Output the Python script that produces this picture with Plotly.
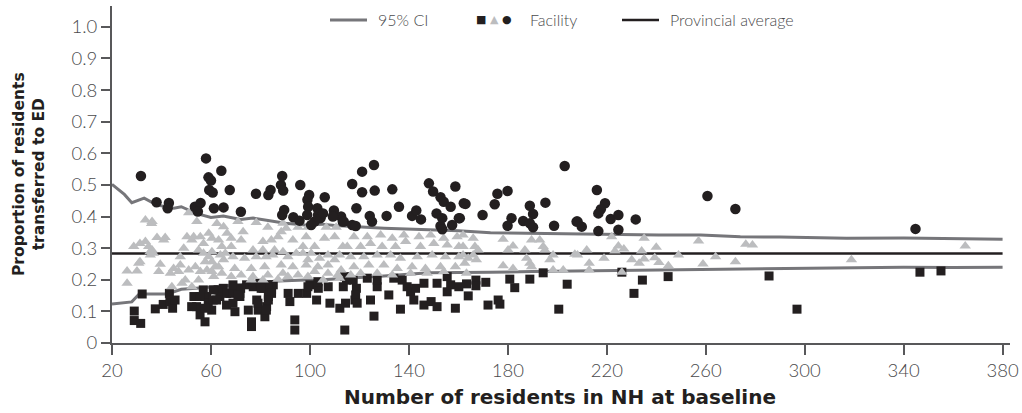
import plotly.graph_objects as go

# ---- data ----
ci_x = [20, 25, 28, 31, 33, 38, 42, 45, 48, 54, 60, 65, 72, 77, 85, 90, 98, 105, 110, 118,
        130, 148, 160, 173, 190, 202, 220, 241, 258, 274, 290, 317, 340, 360, 380]
ci_upper = [0.502, 0.47, 0.444, 0.452, 0.458, 0.437, 0.43, 0.426, 0.431, 0.41, 0.397, 0.402,
            0.391, 0.395, 0.385, 0.379, 0.373, 0.376, 0.372, 0.368, 0.363, 0.358, 0.355, 0.349,
            0.347, 0.347, 0.345, 0.342, 0.342, 0.336, 0.335, 0.331, 0.332, 0.330, 0.328]
ci_lower = [0.123, 0.127, 0.13, 0.155, 0.155, 0.155, 0.155, 0.162, 0.17, 0.173, 0.178, 0.18,
            0.184, 0.194, 0.195, 0.197, 0.199, 0.2, 0.202, 0.207, 0.212, 0.222, 0.222, 0.224,
            0.226, 0.227, 0.229, 0.231, 0.233, 0.234, 0.236, 0.238, 0.24, 0.239, 0.24]
provincial_avg = 0.283

high_x = [31.7, 38, 43, 42.5, 53.5, 55.8, 54.7, 58, 59, 60, 59.3, 60.7, 61.2, 64.2, 65.1, 67.6,
          72.1, 78.2, 83.2, 84.1, 88.3, 88.8, 89.2, 89.6, 88.8, 93.3, 96.1, 99.7, 99, 99.3, 98.9,
          103, 106, 103.8, 109.7, 95.8, 103.3, 104.3, 101.9, 100.5, 105.3, 112.6, 109.3, 113.3,
          125.9, 121.1, 117.1, 121.1, 126.2, 133.3, 118.8, 124.2, 125.1, 131, 136, 141.3, 143,
          144.9, 148.1, 149.8, 152.8, 154.1, 151.2, 153.5, 152.8, 153.5, 156.9, 158.8, 160.2,
          157.5, 162.2, 113.7, 117.1, 118.5, 203, 162.9, 160.6, 169.8, 175.8, 179.9, 174.7,
          181.5, 179.9, 186.2, 188.9, 190.2, 188.9, 190.2, 195.2, 198.7, 207.8, 216, 219.3,
          217.6, 216.6, 221.6, 224.7, 231.7, 208.2, 209.9, 216.6, 224.7, 260.7, 272, 344.8]
high_y = [0.528, 0.445, 0.443, 0.426, 0.431, 0.443, 0.416, 0.584, 0.524, 0.514, 0.484, 0.476,
          0.426, 0.545, 0.429, 0.484, 0.415, 0.472, 0.468, 0.484, 0.5, 0.528, 0.482, 0.421,
          0.405, 0.398, 0.5, 0.468, 0.453, 0.431, 0.405, 0.426, 0.461, 0.41, 0.419, 0.387, 0.405,
          0.395, 0.384, 0.373, 0.41, 0.4, 0.4, 0.384, 0.563, 0.542, 0.503, 0.477, 0.482, 0.486,
          0.426, 0.402, 0.384, 0.402, 0.431, 0.402, 0.419, 0.391, 0.505, 0.479, 0.461, 0.447,
          0.41, 0.395, 0.37, 0.36, 0.431, 0.495, 0.395, 0.373, 0.442, 0.384, 0.373, 0.37, 0.56,
          0.44, 0.395, 0.405, 0.472, 0.481, 0.439, 0.395, 0.371, 0.386, 0.434, 0.408, 0.379,
          0.366, 0.444, 0.371, 0.384, 0.484, 0.442, 0.423, 0.41, 0.392, 0.405, 0.391, 0.384,
          0.368, 0.354, 0.358, 0.465, 0.424, 0.361]

low_x = [29, 29, 31.6, 32.2, 37.5, 40.7, 43.4, 44.5, 43.2, 45.5, 53.1, 54.2, 52.2, 55.6, 57.6,
         56.9, 58.3, 58.9, 60.3, 60.9, 62.9, 63.6, 65, 66.3, 67.7, 69.7, 71.7, 69, 75.1, 76.4,
         76.4, 78.5, 79.1, 81.8, 82.5, 83.2, 81.1, 84.5, 85.2, 83.2, 91.2, 91.9, 93.9, 93.9, 95.3,
         98.7, 100, 102.7, 103.4, 107.4, 108.1, 112.1, 113.5, 114.1, 114.8, 117.5, 118.2, 118.8,
         55.6, 60.9, 62.3, 57.6, 66.3, 69, 71.7, 74.4, 77.1, 79.8, 84.5, 83.2, 68.9, 72, 70.9,
         68.9, 80.3, 79, 82.4, 99.2, 103.2, 114, 118.5, 114.4, 119.1, 124.5, 127.2, 127.2, 123.2,
         131.9, 133.9, 137.3, 139.3, 140.7, 142.7, 142, 146.1, 146.1, 149, 151.4, 151.4, 155.5,
         155.5, 156.9, 160.2, 158.8, 136.6, 125.9, 163.3, 167.1, 167.1, 171.1, 164, 172, 176.1,
         176.8, 180.8, 182.8, 188.9, 194.3, 204, 200.6, 226.1, 234.4, 231, 244.8, 285.6, 296.9,
         346.6, 355.1]
low_y = [0.101, 0.071, 0.062, 0.155, 0.108, 0.122, 0.131, 0.11, 0.157, 0.136, 0.147, 0.115,
         0.115, 0.089, 0.067, 0.168, 0.147, 0.126, 0.104, 0.136, 0.168, 0.147, 0.173, 0.12, 0.157,
         0.099, 0.157, 0.173, 0.104, 0.067, 0.052, 0.136, 0.104, 0.083, 0.115, 0.147, 0.173, 0.168,
         0.184, 0.184, 0.157, 0.131, 0.073, 0.041, 0.157, 0.157, 0.184, 0.136, 0.173, 0.178, 0.126,
         0.11, 0.178, 0.041, 0.199, 0.199, 0.136, 0.173, 0.147, 0.168, 0.136, 0.11, 0.157, 0.162,
         0.147, 0.184, 0.178, 0.189, 0.157, 0.136, 0.184, 0.173, 0.152, 0.126, 0.173, 0.126, 0.104,
         0.178, 0.194, 0.21, 0.152, 0.126, 0.126, 0.136, 0.178, 0.199, 0.205, 0.152, 0.205, 0.199,
         0.178, 0.162, 0.173, 0.136, 0.189, 0.12, 0.131, 0.115, 0.189, 0.21, 0.162, 0.184, 0.178,
         0.11, 0.107, 0.085, 0.187, 0.199, 0.181, 0.192, 0.149, 0.12, 0.136, 0.123, 0.202, 0.175,
         0.202, 0.222, 0.186, 0.107, 0.224, 0.199, 0.157, 0.21, 0.212, 0.107, 0.224, 0.228]

mid_x = [33.5, 36.2, 38.2, 41.5, 40.9, 33.5, 28.8, 34.8, 36.2, 35.5, 26.1, 30.8, 30.1, 26.1, 39.5,
         38.9, 43.6, 44.9, 47.6, 46.9, 47.6, 49, 50.3, 52.3, 54.3, 51, 53, 55.7, 57, 59.1, 60.4, 55,
         57, 59.1, 60.4, 63.1, 64.4, 65.8, 65.1, 60.4, 61.7, 58.4, 55.7, 53.7, 51, 49.6, 52.3, 48.3,
         44.2, 62.4, 65.1, 66.5, 61.1, 64.4, 55, 57.7, 63.1, 60.4, 63.8, 36, 31.3, 35.4, 36.7, 31.3,
         78.3, 83, 89.1, 95.2, 99.2, 106.6, 110.6, 73, 68.2, 72.2, 81, 84.4, 87.1, 93.1, 98.5, 97.2,
         101.9, 105.9, 110, 113.3, 68.2, 77, 81, 85.7, 85, 89.1, 94.5, 97.2, 100.5, 107.3, 112,
         68.9, 73.6, 78.3, 82.3, 91.1, 99.2, 103.9, 110, 69.6, 76.3, 81.7, 88.4, 93.1, 98.5, 103.2,
         107.3, 112.6, 72.2, 77, 83, 89.1, 95.2, 101.9, 107.3, 111.3, 68.2, 76.3, 81, 87.1, 91.1,
         99.2, 105.3, 112, 70.9, 88.4, 90.4,
         117.8, 123.2, 128.6, 133.3, 138, 144.1, 148.8, 154.1, 159.5, 115.1, 120.5, 124.5, 129.2,
         134.6, 138.7, 144.7, 150.1, 155.5, 160.2, 116.5, 121.8, 127.2, 132.6, 136.6, 143.4, 149.4,
         154.8, 160.2, 117.8, 123.8, 129.9, 135.3, 141.3, 146.7, 152.8, 158.8, 120.5, 127.2, 133.3,
         140.7, 147.4, 154.1, 116.5,
         161.9, 166, 161.9, 166.7, 168, 161.9, 166, 162.6, 167.3, 163.3, 178.1, 182.1, 180.1, 186.9,
         189.6, 192.9, 194.3, 195, 198.3, 197, 187.6, 188.9, 189.6, 178.1, 182.1, 198.3, 202.4,
         207.1, 164,
         222, 235.1, 257.1, 211.9, 224.7, 223.3, 226.9, 234.1, 240, 208.2, 218.9, 230.1, 235.1,
         239.4, 249, 212.9, 212.9, 233.1, 241.1, 244.9, 226.1, 258.9, 264, 272, 276.2, 278.9,
         318.9, 364.9]
mid_y = [0.389, 0.384, 0.334, 0.334, 0.326, 0.321, 0.305, 0.305, 0.294, 0.278, 0.228, 0.252,
         0.228, 0.189, 0.249, 0.226, 0.221, 0.236, 0.247, 0.226, 0.273, 0.3, 0.336, 0.326, 0.384,
         0.412, 0.336, 0.336, 0.315, 0.347, 0.331, 0.294, 0.284, 0.273, 0.289, 0.326, 0.305, 0.284,
         0.263, 0.257, 0.241, 0.231, 0.226, 0.241, 0.231, 0.199, 0.178, 0.189, 0.178, 0.378, 0.368,
         0.347, 0.21, 0.221, 0.199, 0.257, 0.241, 0.226, 0.278, 0.378, 0.315, 0.289, 0.284, 0.257,
         0.381, 0.366, 0.379, 0.366, 0.366, 0.366, 0.366, 0.352, 0.331, 0.326, 0.321, 0.326, 0.336,
         0.326, 0.336, 0.305, 0.305, 0.331, 0.336, 0.305, 0.305, 0.294, 0.294, 0.294, 0.278, 0.289,
         0.284, 0.284, 0.284, 0.278, 0.278, 0.273, 0.268, 0.273, 0.273, 0.273, 0.263, 0.268, 0.263,
         0.236, 0.236, 0.241, 0.247, 0.241, 0.247, 0.241, 0.247, 0.231, 0.215, 0.21, 0.215, 0.221,
         0.215, 0.226, 0.221, 0.215, 0.21, 0.199, 0.199, 0.202, 0.21, 0.21, 0.199, 0.205, 0.384,
         0.352, 0.363,
         0.336, 0.336, 0.342, 0.331, 0.342, 0.336, 0.342, 0.331, 0.336, 0.305, 0.305, 0.315, 0.305,
         0.305, 0.321, 0.305, 0.315, 0.31, 0.305, 0.273, 0.273, 0.278, 0.278, 0.268, 0.273, 0.278,
         0.273, 0.273, 0.241, 0.247, 0.247, 0.236, 0.241, 0.236, 0.241, 0.241, 0.221, 0.221, 0.215,
         0.221, 0.221, 0.226, 0.215,
         0.342, 0.331, 0.305, 0.305, 0.294, 0.278, 0.278, 0.252, 0.263, 0.221, 0.328, 0.307, 0.294,
         0.294, 0.326, 0.326, 0.305, 0.294, 0.278, 0.263, 0.268, 0.252, 0.241, 0.244, 0.236, 0.231,
         0.231, 0.281, 0.268,
         0.336, 0.331, 0.323, 0.294, 0.307, 0.291, 0.297, 0.291, 0.303, 0.278, 0.268, 0.263, 0.266,
         0.27, 0.278, 0.252, 0.231, 0.252, 0.255, 0.244, 0.224, 0.25, 0.273, 0.257, 0.312, 0.31,
         0.263, 0.307]

x_ticks = [20, 60, 100, 140, 180, 220, 260, 300, 340, 380]
y_ticks = [0, 0.1, 0.2, 0.3, 0.4, 0.5, 0.6, 0.7, 0.8, 0.9, 1.0]
y_tick_text = ["0", "0.1", "0.2", "0.3", "0.4", "0.5", "0.6", "0.7", "0.8", "0.9", "1.0"]

# ---- styles / layout constants ----
BLACK = "#231f20"
GREY_TRI = "#bcbdbf"
CI_COL = "#76767a"
AXIS_COL = "#58585a"
TICK_FONT = dict(family="Lato", size=18.5, color="#4a4a4c", weight=300)
LEG_FONT = dict(family="Lato", size=16, color="#4a4a4c", weight=300)
TITLE_FONT_X = dict(family="DejaVu Sans", size=20, color=BLACK, weight="bold")
TITLE_FONT_Y = dict(family="DejaVu Sans", size=15.5, color=BLACK, weight="bold")
W, H = 1022, 413
ML, MR, MT, MB = 112, 12, 6, 70
PW, PH = W - ML - MR, H - MT - MB


def px_x(p):
    return (p - ML) / PW


def px_y(p):
    return 1 - (p - MT) / PH


fig = go.Figure()
fig.add_trace(go.Scatter(x=ci_x, y=ci_upper, mode="lines", line=dict(color=CI_COL, width=3),
                         showlegend=False, hoverinfo="skip"))
fig.add_trace(go.Scatter(x=ci_x, y=ci_lower, mode="lines", line=dict(color=CI_COL, width=3),
                         showlegend=False, hoverinfo="skip"))
fig.add_trace(go.Scatter(x=[ci_x[0], ci_x[-1]], y=[provincial_avg, provincial_avg], mode="lines",
                         line=dict(color=BLACK, width=2.6), showlegend=False))
fig.add_trace(go.Scatter(x=low_x, y=low_y, mode="markers",
                         marker=dict(symbol="square", size=9, color=BLACK), showlegend=False))
fig.add_trace(go.Scatter(x=mid_x, y=mid_y, mode="markers",
                         marker=dict(symbol="triangle-up", size=10, color=GREY_TRI), showlegend=False))
fig.add_trace(go.Scatter(x=high_x, y=high_y, mode="markers",
                         marker=dict(symbol="circle", size=10.5, color=BLACK), showlegend=False))

# ---- legend (drawn manually) ----
leg_y = px_y(20)
shapes = [
    dict(type="line", xref="paper", yref="paper", x0=px_x(330), x1=px_x(367), y0=leg_y, y1=leg_y,
         line=dict(color=CI_COL, width=3)),
    dict(type="line", xref="paper", yref="paper", x0=px_x(622), x1=px_x(659), y0=leg_y, y1=leg_y,
         line=dict(color=BLACK, width=2.6)),
]
annotations = [
    dict(xref="paper", yref="paper", x=px_x(376), y=leg_y, xanchor="left", yanchor="middle",
         text="95% CI", showarrow=False, font=LEG_FONT),
    dict(xref="paper", yref="paper", x=px_x(474), y=leg_y, xanchor="left", yanchor="middle",
         text=f'<span style="color:{BLACK}">■</span> <span style="color:{GREY_TRI}">▲</span> '
              f'<span style="color:{BLACK}">●</span>',
         showarrow=False, font=dict(family="DejaVu Sans", size=11, color=BLACK)),
    dict(xref="paper", yref="paper", x=px_x(528), y=leg_y, xanchor="left", yanchor="middle",
         text="Facility", showarrow=False, font=LEG_FONT),
    dict(xref="paper", yref="paper", x=px_x(668), y=leg_y, xanchor="left", yanchor="middle",
         text="Provincial average", showarrow=False, font=LEG_FONT),
    # axis titles
    dict(xref="paper", yref="paper", x=px_x(560), y=px_y(397), xanchor="center", yanchor="middle",
         text="Number of residents in NH at baseline", showarrow=False, font=TITLE_FONT_X),
    dict(xref="paper", yref="paper", x=px_x(29), y=px_y(174), xanchor="center", yanchor="middle",
         text="Proportion of residents<br>transferred to ED", showarrow=False, textangle=-90,
         font=TITLE_FONT_Y),
]

fig.update_layout(
    width=W, height=H,
    margin=dict(l=ML, r=MR, t=MT, b=MB, autoexpand=False),
    paper_bgcolor="white", plot_bgcolor="white",
    shapes=shapes, annotations=annotations,
    xaxis=dict(range=[20, 383], tickvals=x_ticks, ticks="outside", ticklen=10, tickwidth=1.5,
               tickcolor=AXIS_COL, showline=True, linecolor=AXIS_COL, linewidth=2, showgrid=False,
               zeroline=False, tickfont=TICK_FONT, automargin=False),
    yaxis=dict(range=[0, 1.066], tickvals=y_ticks, ticktext=y_tick_text, ticks="outside",
               ticklen=9, tickwidth=1.5, tickcolor=AXIS_COL, showline=True, linecolor=AXIS_COL,
               linewidth=2, showgrid=False, zeroline=False, tickfont=TICK_FONT, automargin=False),
)

fig.write_html("out.html", config={"displayModeBar": False},
               post_script="document.body.style.margin='0';")
